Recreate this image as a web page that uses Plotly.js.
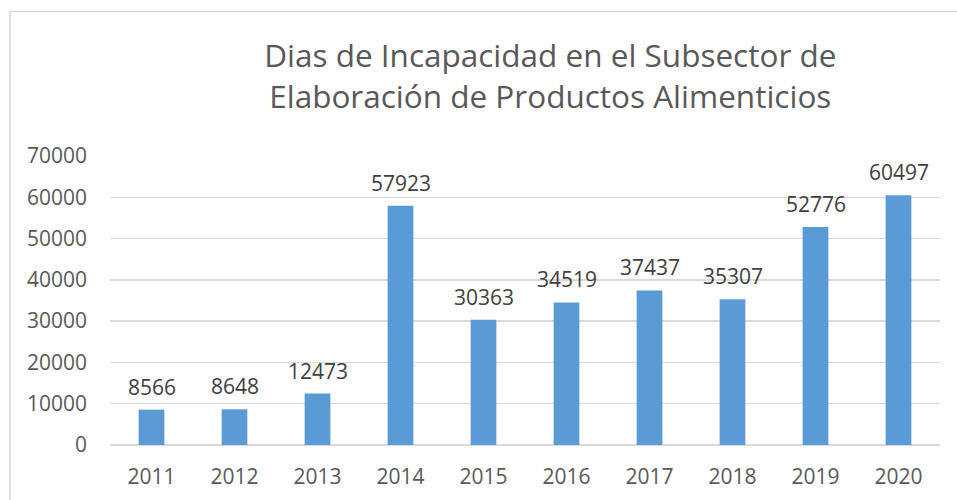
<!DOCTYPE html>
<html><head><meta charset="utf-8">
<script src="https://cdn.plot.ly/plotly-3.0.1.min.js"></script>
<style>html,body{margin:0;padding:0;background:#fff}#chart{width:957px;height:500px}</style>
</head><body><div id="chart"></div>
<script>
const years = ['2011','2012','2013','2014','2015','2016','2017','2018','2019','2020'];
const dias = [8566, 8648, 12473, 57923, 30363, 34519, 37437, 35307, 52776, 60497];
const yTicks = [0, 10000, 20000, 30000, 40000, 50000, 60000, 70000];
const titleText = 'Dias de Incapacidad en el Subsector de<br>Elaboración de Productos Alimenticios';

const font = 'Open Sans, sans-serif';
const trace = {
  type: 'bar', x: years, y: dias,
  marker: {color: '#5B9BD5'}, hoverinfo: 'x+y'
};
const labels = years.map((yr, i) => ({
  x: i, y: dias[i], xref: 'x', yref: 'y', text: String(dias[i]),
  showarrow: false, yanchor: 'bottom', yshift: 7,
  font: {family: font, size: 21, color: '#404040'}
}));
const layout = {
  width: 957, height: 500,
  margin: {l: 110, r: 17, t: 156, b: 55},
  paper_bgcolor: '#fff', plot_bgcolor: '#fff',
  bargap: 0.69,
  showlegend: false,
  title: {text: titleText, font: {family: font, size: 31.5, color: '#595959'},
          x: 0.575, xanchor: 'center', xref: 'container', y: 0.866, yanchor: 'top', yref: 'container'},
  xaxis: {type: 'category', categoryorder: 'array', categoryarray: years, range: [-0.5, years.length - 0.5],
          tickfont: {family: font, size: 21, color: '#595959'},
          showline: false, ticks: '', showgrid: false, zeroline: false, ticklabelstandoff: 17},
  yaxis: {range: [0, 70000], tickvals: yTicks, ticktext: yTicks.map(String),
          tickfont: {family: font, size: 21, color: '#595959'},
          showgrid: true, gridcolor: '#D9D9D9', gridwidth: 1.5,
          zeroline: true, zerolinecolor: '#D9D9D9', zerolinewidth: 1.5,
          ticks: '', ticklen: 0, ticklabelstandoff: 22, showline: false},
  annotations: labels,
  shapes: [{type: 'rect', xref: 'paper', yref: 'paper', x0: -0.1205, x1: 1.2, y0: -0.5, y1: 1.5,
            line: {color: '#D9D9D9', width: 1.5}, fillcolor: 'rgba(0,0,0,0)', layer: 'below'}]
};
Plotly.newPlot('chart', [trace], layout, {displayModeBar: false, staticPlot: true});
</script></body></html>
